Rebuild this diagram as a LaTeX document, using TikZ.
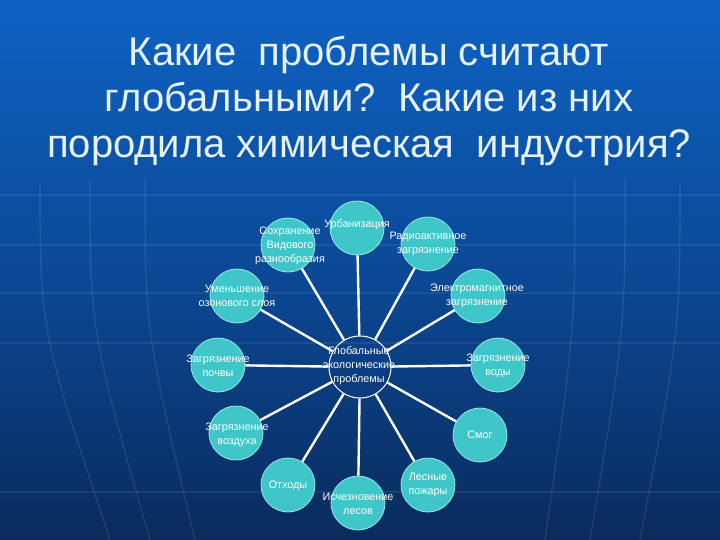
\documentclass[tikz,border=0pt]{standalone}
\usepackage{fontspec}
\setmainfont{Liberation Sans}
\usepackage{xcolor}
\definecolor{slidetop}{HTML}{0E62C4}
\definecolor{slidemid}{HTML}{0B4996}
\definecolor{slidebot}{HTML}{0A2B5C}
\definecolor{bubble}{HTML}{3EC6C8}
\definecolor{bubbleedge}{HTML}{9AE6E6}
\definecolor{titletext}{HTML}{E6F2FF}

\tikzset{
  problem/.style={circle, fill=bubble, draw=bubbleedge, line width=0.8pt,
    minimum size=54pt, inner sep=0pt},
  hub/.style={circle, draw=white, line width=1pt, minimum size=62pt, inner sep=0pt},
  caption/.style={text=white, align=center, inner sep=0pt,
    font=\fontsize{10.8}{14}\selectfont},
  spoke/.style={white, line width=2.4pt},
  backline/.style={white, opacity=0.1, line width=1.2pt}
}

\begin{document}
\begin{tikzpicture}[x=1pt,y=-1pt]
					% slide background
					\shade[top color=slidetop, bottom color=slidebot, middle color=slidemid]
					(0,0) rectangle (720,540);
					\useasboundingbox (0,0) rectangle (720,540);
					
					\foreach \yy in {195,245,293,343,492}
					\draw[backline, opacity=0.07] (0,\yy) -- (720,\yy);
					\foreach \xa/\xb in {40/110, 90/150, 145/195, 575/545, 625/590, 680/640}
					\draw[backline] (\xa,180) .. controls (\xa,330) .. (\xb,540);
					
					% title
					\node[text=titletext, align=center, font=\fontsize{40}{46}\selectfont] (title) at (369,101)
					{Какие\ \ проблемы считают\\глобальными?\ \ Какие из них\\породила химическая\ \ индустрия?};
					
					% hub and bubbles
					\node[hub] (hub) at (360,367) {};
					\node[problem] (urban) at (357,228) {};
					\node[problem] (species) at (288,245) {};
					\node[problem] (radio) at (428,244) {};
					\node[problem] (ozone) at (237,296) {};
					\node[problem] (emag) at (478,296) {};
					\node[problem] (soil) at (218,365) {};
					\node[problem] (water) at (498,365) {};
					\node[problem] (air) at (236,433) {};
					\node[problem] (smog) at (480,435) {};
					\node[problem] (waste) at (288,485) {};
					\node[problem] (forest) at (358,503) {};
					\node[problem] (fires) at (428,485) {};
					
					% spokes
					\foreach \target in {urban,species,radio,ozone,emag,soil,water,air,smog,waste,forest,fires}
					\draw[spoke] (hub) -- (\target);
					
					% captions
					\node[caption] (hubtext) at (359,366) {Глобальные\\экологические\\проблемы};
					\node[caption] (urbantext) at (357,225) {Урбанизация};
					\node[caption] (speciestext) at (290,246) {Сохранение\\Видового\\разнообразия};
					\node[caption] (radiotext) at (428,244) {Радиоактивное\\загрязнение};
					\node[caption] (ozonetext) at (237,296) {Уменьшение\\озонового слоя};
					\node[caption] (emagtext) at (477,296) {Электромагнитное\\загрязнение};
					\node[caption] (soiltext) at (218,366) {Загрязнение\\почвы};
					\node[caption] (watertext) at (498,366) {Загрязнение\\воды};
					\node[caption] (airtext) at (237,435) {Загрязнение\\воздуха};
					\node[caption] (smogtext) at (480,435) {Смог};
					\node[caption] (wastetext) at (288,486) {Отходы};
					\node[caption] (foresttext) at (358,504) {Исчезновение\\лесов};
					\node[caption] (firestext) at (428,485) {Лесные\\пожары};
				\end{tikzpicture}
\end{document}
